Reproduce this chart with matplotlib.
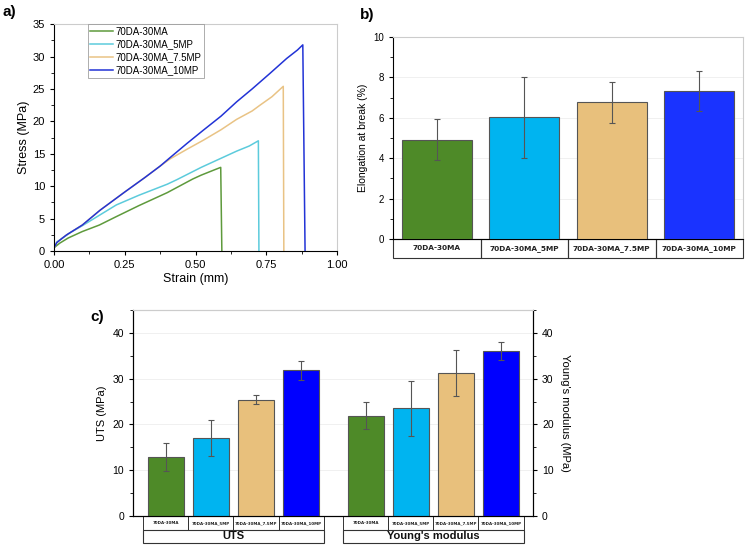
import numpy as np
import matplotlib.pyplot as plt
from matplotlib.patches import Rectangle
from matplotlib.ticker import MultipleLocator

plt.rcParams['font.family'] = ['Liberation Sans', 'DejaVu Sans']

samples = ['70DA-30MA', '70DA-30MA_5MP', '70DA-30MA_7.5MP', '70DA-30MA_10MP']
line_colors = ['#5e9a3c', '#5ccbdc', '#e9c385', '#2233d6']
bar_colors_b = ['#4e8a28', '#00b4f0', '#e8c07c', '#1a33ff']
bar_colors_c = ['#4e8a28', '#00b4f0', '#e8c07c', '#0000ff']

# stress-strain curves (strain, stress)
strain_1 = [0, 0.02, 0.05, 0.1, 0.16, 0.22, 0.3, 0.4, 0.46, 0.49, 0.52, 0.56, 0.589, 0.593]
stress_1 = [0.5, 1.2, 2.0, 3.0, 4.0, 5.3, 7.0, 9.0, 10.4, 11.1, 11.7, 12.4, 12.9, 0]
strain_2 = [0, 0.01, 0.03, 0.06, 0.1, 0.16, 0.22, 0.3, 0.4, 0.434, 0.52, 0.6, 0.645,
            0.69, 0.722, 0.724]
stress_2 = [0.5, 1.4, 2.0, 2.9, 3.9, 5.5, 7.1, 8.6, 10.3, 11.0, 12.9, 14.5, 15.4,
            16.2, 17.0, 0]
strain_3 = [0, 0.01, 0.03, 0.045, 0.1, 0.163, 0.25, 0.32, 0.375, 0.41, 0.47, 0.528,
            0.59, 0.645, 0.7, 0.728, 0.77, 0.81, 0.812]
stress_3 = [0.5, 1.3, 2.0, 2.5, 4.0, 6.3, 9.1, 11.3, 13.1, 14.2, 15.7, 17.1,
            18.7, 20.3, 21.6, 22.5, 23.8, 25.4, 0]
strain_4 = [0, 0.01, 0.03, 0.045, 0.1, 0.163, 0.25, 0.32, 0.375, 0.41, 0.47, 0.528,
            0.59, 0.645, 0.7, 0.763, 0.822, 0.86, 0.879, 0.887]
stress_4 = [0.5, 1.3, 2.0, 2.5, 4.0, 6.3, 9.1, 11.3, 13.1, 14.4, 16.6, 18.65,
            20.8, 23.0, 25.0, 27.4, 29.7, 31.0, 31.8, 0]

elong = [4.92, 6.03, 6.76, 7.34]
elong_err = [1.0, 2.0, 1.0, 1.0]
uts = [12.9, 17.0, 25.4, 31.8]
uts_err = [3.0, 4.0, 1.0, 2.0]
young = [21.9, 23.5, 31.3, 36.0]
young_err = [3.0, 6.0, 5.0, 2.0]

fig = plt.figure(figsize=(7.49, 5.48), dpi=100)

# ---- a) stress-strain
ax1 = fig.add_axes([0.0721, 0.542, 0.3779, 0.414])
curves = [(strain_1, stress_1), (strain_2, stress_2), (strain_3, stress_3), (strain_4, stress_4)]
for (sx, sy), c, name in zip(curves, line_colors, samples):
    ax1.plot(sx, sy, color=c, lw=1.1, label=name)
ax1.set_xlim(0, 1)
ax1.set_ylim(0, 35)
ax1.set_xticks([0, 0.25, 0.5, 0.75, 1.0])
ax1.set_xticklabels(['0.00', '0.25', '0.50', '0.75', '1.00'])
ax1.xaxis.set_minor_locator(MultipleLocator(0.125))
ax1.yaxis.set_major_locator(MultipleLocator(5))
ax1.yaxis.set_minor_locator(MultipleLocator(2.5))
ax1.tick_params(labelsize=8, length=3)
ax1.tick_params(which='minor', length=2)
ax1.set_xlabel('Strain (mm)', fontsize=9, labelpad=2)
ax1.set_ylabel('Stress (MPa)', fontsize=9, labelpad=2)
for s in ['top', 'right']:
    ax1.spines[s].set_color('#cccccc')
leg = ax1.legend(loc='upper left', bbox_to_anchor=(0.12, 1.0), fontsize=7,
                 frameon=True, fancybox=False, edgecolor='#888888',
                 borderpad=0.25, labelspacing=0.3, handlelength=2.3, handletextpad=0.3,
                 borderaxespad=0)
leg.get_frame().set_linewidth(0.6)
fig.text(0.004, 0.978, 'a)', fontsize=11, fontweight='bold', va='center')

# ---- b) elongation
ax2 = fig.add_axes([0.5247, 0.5639, 0.4673, 0.3686])
xb = np.arange(len(samples))
ax2.bar(xb, elong, width=0.8, color=bar_colors_b, edgecolor='#555555', lw=0.8, zorder=3)
ax2.errorbar(xb, elong, yerr=elong_err, fmt='none', ecolor='#555555', elinewidth=0.8,
             capsize=2.5, capthick=0.8, zorder=4)
ax2.set_xlim(-0.5, 3.5)
ax2.set_ylim(0, 10)
ax2.set_xticks([])
ax2.yaxis.set_major_locator(MultipleLocator(2))
ax2.yaxis.set_minor_locator(MultipleLocator(1))
ax2.tick_params(axis='y', labelsize=7, length=3)
ax2.tick_params(axis='y', which='minor', length=2)
ax2.set_ylabel('Elongation at break (%)', fontsize=7.5, labelpad=4)
ax2.grid(axis='y', color='#eeeeee', lw=0.6, zorder=0)
for s in ['top', 'right']:
    ax2.spines[s].set_color('#cccccc')
trb = ax2.get_xaxis_transform()
for i, name in enumerate(samples):
    ax2.add_patch(Rectangle((i - 0.5, -0.094), 1.0, 0.094, transform=trb, fill=False,
                            edgecolor='#333333', lw=0.8, clip_on=False))
    ax2.text(i, -0.047, name, transform=trb, ha='center', va='center', fontsize=5.3,
             fontweight='bold', color='#222222', family=['DejaVu Sans'])
fig.text(0.481, 0.972, 'b)', fontsize=11, fontweight='bold', va='center')

# ---- c) UTS and Young's modulus
ax3 = fig.add_axes([0.1776, 0.0584, 0.534, 0.3759])
x_uts = np.arange(4)
x_young = np.arange(4) + 4.44
ax3.bar(x_uts, uts, width=0.8, color=bar_colors_c, edgecolor='#555555', lw=0.8, zorder=3)
ax3.bar(x_young, young, width=0.8, color=bar_colors_c, edgecolor='#555555', lw=0.8, zorder=3)
ax3.errorbar(x_uts, uts, yerr=uts_err, fmt='none', ecolor='#555555', elinewidth=0.8,
             capsize=2.5, capthick=0.8, zorder=4)
ax3.errorbar(x_young, young, yerr=young_err, fmt='none', ecolor='#555555', elinewidth=0.8,
             capsize=2.5, capthick=0.8, zorder=4)
ax3.set_xlim(-0.73, 8.15)
ax3.set_ylim(0, 45)
ax3.set_xticks([])
ax3.yaxis.set_major_locator(MultipleLocator(10))
ax3.yaxis.set_minor_locator(MultipleLocator(5))
ax3.tick_params(axis='y', labelsize=7.5, length=3)
ax3.tick_params(axis='y', which='minor', length=2)
ax3.set_ylabel('UTS (MPa)', fontsize=8, labelpad=4)
ax3.grid(axis='y', color='#eeeeee', lw=0.6, zorder=0)
ax3.spines['top'].set_color('#cccccc')
ax3r = ax3.twinx()
ax3r.set_ylim(0, 45)
ax3r.yaxis.set_major_locator(MultipleLocator(10))
ax3r.yaxis.set_minor_locator(MultipleLocator(5))
ax3r.tick_params(axis='y', labelsize=7.5, length=3)
ax3r.tick_params(axis='y', which='minor', length=2)
ax3r.set_ylabel("Young's modulus (MPa)", fontsize=8, rotation=270, labelpad=12)
ax3r.spines['top'].set_color('#cccccc')

trc = ax3.get_xaxis_transform()
for xs, group in [(x_uts, 'UTS'), (x_young, "Young's modulus")]:
    for x, name in zip(xs, samples):
        ax3.add_patch(Rectangle((x - 0.5, -0.068), 1.0, 0.068, transform=trc, fill=False,
                                edgecolor='#333333', lw=0.7, clip_on=False))
        ax3.text(x, -0.034, name, transform=trc, ha='center', va='center', fontsize=2.9,
                 fontweight='bold', color='#222222', family=['DejaVu Sans'])
    ax3.add_patch(Rectangle((xs[0] - 0.5, -0.131), 4.0, 0.063, transform=trc, fill=False,
                            edgecolor='#333333', lw=0.8, clip_on=False))
    ax3.text(xs[0] + 1.5, -0.0995, group, transform=trc, ha='center', va='center',
             fontsize=8, fontweight='bold', color='#111111')
fig.text(0.12, 0.421, 'c)', fontsize=11, fontweight='bold', va='center')

fig.savefig('out.png', dpi=100)
